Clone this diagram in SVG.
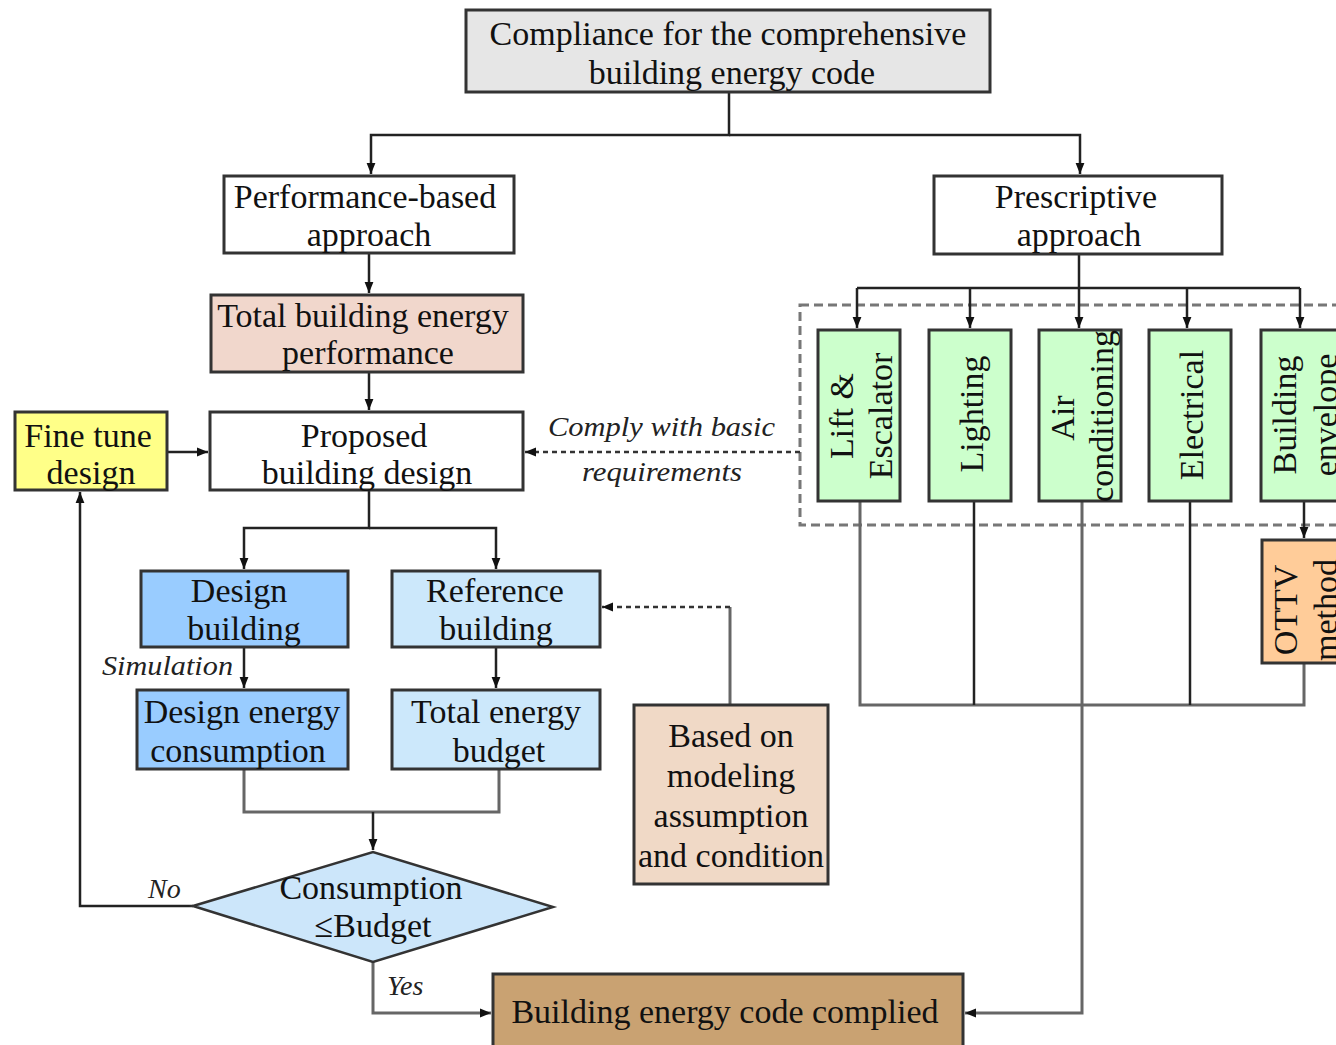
<svg xmlns="http://www.w3.org/2000/svg" width="1336" height="1045" viewBox="0 0 1336 1045">
<style>
  .t { font-family: "Liberation Serif", "Times New Roman", serif; font-size: 34px; fill: #111; text-anchor: middle; }
  .it { font-family: "Liberation Serif", "Times New Roman", serif; font-size: 28px; font-style: italic; fill: #222; }
  .box { stroke: #333; stroke-width: 3; }
  .ln { fill: none; stroke: #222; stroke-width: 2.5; }
  .gl { fill: none; stroke: #666; stroke-width: 3; }
  .dl { fill: none; stroke: #333; stroke-width: 2.5; stroke-dasharray: 5 4; }
</style>
<defs>
  <marker id="ah" viewBox="0 0 10 10" refX="10" refY="5" markerWidth="11" markerHeight="11" markerUnits="userSpaceOnUse" orient="auto">
    <path d="M0,1 L10,5 L0,9 z" fill="#111"/>
  </marker>
</defs>
<rect width="1336" height="1045" fill="#fff"/>

<g id="group-prescriptive">
  <rect x="800" y="305" width="600" height="220" fill="none" stroke="#777" stroke-width="3" stroke-dasharray="9 5"/>
</g>

<g id="connectors">
  <path class="ln" d="M729,92 V135 H371 V174" marker-end="url(#ah)"/>
  <path class="ln" d="M729,135 H1080 V174" marker-end="url(#ah)"/>
  <path class="ln" d="M369,253 V293" marker-end="url(#ah)"/>
  <path class="ln" d="M369,372 V410" marker-end="url(#ah)"/>
  <path class="ln" d="M167,452 H208" marker-end="url(#ah)"/>
  <path class="dl" d="M800,452 H525" marker-end="url(#ah)"/>
  <path class="ln" d="M1079,254 V328" marker-end="url(#ah)"/>
  <path class="ln" d="M857,288 H1300"/>
  <path class="ln" d="M857,288 V328" marker-end="url(#ah)"/>
  <path class="ln" d="M970,288 V328" marker-end="url(#ah)"/>
  <path class="ln" d="M1187,288 V328" marker-end="url(#ah)"/>
  <path class="ln" d="M1300,288 V328" marker-end="url(#ah)"/>
  <path class="ln" d="M369,490 V528 H244 V569" marker-end="url(#ah)"/>
  <path class="ln" d="M369,528 H496 V569" marker-end="url(#ah)"/>
  <path class="ln" d="M244,647 V688" marker-end="url(#ah)"/>
  <path class="ln" d="M496,647 V688" marker-end="url(#ah)"/>
  <path class="gl" d="M244,769 V812 H499 V769"/>
  <path class="ln" d="M373,812 V850" marker-end="url(#ah)"/>
  <path class="ln" d="M193,906 H80 V492" marker-end="url(#ah)"/>
  <path class="gl" d="M373,962 V1013 H491" marker-end="url(#ah)"/>
  <path class="gl" d="M1082,501 V1013 H965" marker-end="url(#ah)"/>
  <path class="gl" d="M860,501 V705 H1304 V663"/>
  <path class="ln" d="M974,501 V705"/>
  <path class="ln" d="M1190,501 V705"/>
  <path class="ln" d="M1304,501 V538" marker-end="url(#ah)"/>
  <path class="gl" d="M730,705 V607"/>
  <path class="dl" d="M730,607 H602" marker-end="url(#ah)"/>
  <text class="it" x="548" y="436" font-size="28" textLength="227" lengthAdjust="spacingAndGlyphs">Comply with basic</text>
  <text class="it" x="582" y="481" font-size="28" textLength="160" lengthAdjust="spacingAndGlyphs">requirements</text>
  <text class="it" x="102" y="675" font-size="30" textLength="131" lengthAdjust="spacingAndGlyphs">Simulation</text>
  <text class="it" x="148" y="898">No</text>
  <text class="it" x="387" y="995">Yes</text>
</g>

<g id="compliance">
  <rect class="box" x="466" y="10" width="524" height="82" fill="#e6e6e6" stroke="#111"/>
  <text class="t" x="728" y="45">Compliance for the comprehensive</text>
  <text class="t" x="732" y="84">building energy code</text>
</g>

<g id="performance-based">
  <rect class="box" x="224" y="176" width="290" height="77" fill="#fff"/>
  <text class="t" x="365" y="208">Performance-based</text>
  <text class="t" x="369" y="246">approach</text>
</g>

<g id="prescriptive">
  <rect class="box" x="934" y="176" width="288" height="78" fill="#fff" stroke="#555"/>
  <text class="t" x="1076" y="208">Prescriptive</text>
  <text class="t" x="1079" y="246">approach</text>
</g>

<g id="total-performance">
  <rect class="box" x="211" y="295" width="312" height="77" fill="#f1d7cc"/>
  <text class="t" x="363" y="327">Total building energy</text>
  <text class="t" x="368" y="364">performance</text>
</g>

<g id="proposed">
  <rect class="box" x="210" y="412" width="313" height="78" fill="#fff"/>
  <text class="t" x="364" y="447">Proposed</text>
  <text class="t" x="367" y="484">building design</text>
</g>

<g id="fine-tune">
  <rect class="box" x="15" y="412" width="152" height="78" fill="#ffff88"/>
  <text class="t" x="88" y="447">Fine tune</text>
  <text class="t" x="91" y="484">design</text>
</g>

<g id="lift">
  <rect class="box" x="818" y="330" width="82" height="171" fill="#ccffcc"/>
  <text class="t" transform="translate(853,416) rotate(-90)">Lift &amp;</text>
  <text class="t" transform="translate(892,416) rotate(-90)">Escalator</text>
</g>
<g id="lighting">
  <rect class="box" x="929" y="330" width="82" height="171" fill="#ccffcc"/>
  <text class="t" transform="translate(983,414) rotate(-90)">Lighting</text>
</g>
<g id="air-conditioning">
  <rect class="box" x="1039" y="330" width="82" height="171" fill="#ccffcc"/>
  <text class="t" transform="translate(1074,418) rotate(-90)">Air</text>
  <text class="t" transform="translate(1113,416) rotate(-90)">conditioning</text>
</g>
<g id="electrical">
  <rect class="box" x="1149" y="330" width="82" height="171" fill="#ccffcc"/>
  <text class="t" transform="translate(1203,415) rotate(-90)">Electrical</text>
</g>
<g id="building-envelope">
  <rect class="box" x="1261" y="330" width="90" height="171" fill="#ccffcc"/>
  <text class="t" transform="translate(1296,415) rotate(-90)">Building</text>
  <text class="t" transform="translate(1337,415) rotate(-90)">envelope</text>
</g>
<g id="ottv">
  <rect class="box" x="1262" y="540" width="90" height="123" fill="#ffcc99" stroke="#555"/>
  <text class="t" font-size="31" transform="translate(1297,610) rotate(-90)">OTTV</text>
  <text class="t" font-size="31" transform="translate(1337,610) rotate(-90)">method</text>
</g>

<g id="design-building">
  <rect class="box" x="141" y="571" width="207" height="76" fill="#99ccff"/>
  <text class="t" x="239" y="602">Design</text>
  <text class="t" x="244" y="640">building</text>
</g>
<g id="reference-building">
  <rect class="box" x="392" y="571" width="208" height="76" fill="#cce8fb"/>
  <text class="t" x="495" y="602">Reference</text>
  <text class="t" x="496" y="640">building</text>
</g>
<g id="design-energy">
  <rect class="box" x="137" y="690" width="211" height="79" fill="#99ccff"/>
  <text class="t" x="242" y="723">Design energy</text>
  <text class="t" x="238" y="762">consumption</text>
</g>
<g id="total-energy-budget">
  <rect class="box" x="392" y="690" width="208" height="79" fill="#cce8fb"/>
  <text class="t" x="496" y="723">Total energy</text>
  <text class="t" x="499" y="762">budget</text>
</g>
<g id="based-on">
  <rect class="box" x="634" y="705" width="194" height="179" fill="#f0d9c6"/>
  <text class="t" x="731" y="747">Based on</text>
  <text class="t" x="731" y="787">modeling</text>
  <text class="t" x="731" y="827">assumption</text>
  <text class="t" x="731" y="867">and condition</text>
</g>
<g id="decision">
  <polygon points="193,906 373,852 553,907 373,962" fill="#cce6fa" stroke="#333" stroke-width="2.5"/>
  <text class="t" x="371" y="899">Consumption</text>
  <text class="t" x="373" y="937">≤Budget</text>
</g>
<g id="complied">
  <rect class="box" x="493" y="974" width="470" height="74" fill="#c9a272"/>
  <text class="t" x="725" y="1023">Building energy code complied</text>
</g>
</svg>
